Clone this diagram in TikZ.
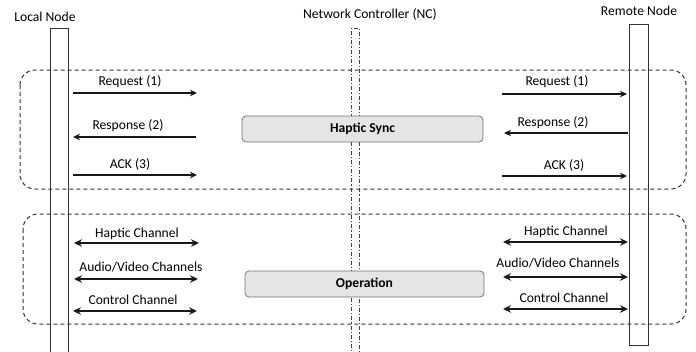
\documentclass[tikz,border=0pt]{standalone}
\usepackage{fontspec}
\setmainfont{Carlito}
\usetikzlibrary{arrows.meta}
\begin{document}
\begin{tikzpicture}[x=1pt,y=-1pt,
  lbl/.style={font=\fontsize{13.6}{15}\selectfont, inner sep=0pt, text=black},
  life/.style={draw=black!80, line width=1.2pt, fill=white, inner sep=0pt},
  msg/.style={draw=black!90, line width=1.3pt, -{Stealth[length=7pt,width=6.5pt]}},
  dmsg/.style={draw=black!90, line width=1.6pt, {Stealth[length=8pt,width=7.5pt]}-{Stealth[length=8pt,width=7.5pt]}},
  phase/.style={draw=black!80, dash pattern=on 4pt off 3pt, line width=1pt, rounded corners=15pt},
  stepbox/.style={draw=black!55, fill=black!10, rounded corners=4pt, line width=0.8pt, inner sep=0pt, font=\bfseries\fontsize{13.6}{15}\selectfont}
]
\useasboundingbox (0,0) rectangle (696,351);

% lifelines
\node[life, anchor=north west, minimum width=18pt, minimum height=340pt] (local) at (50,28) {};
\node[life, anchor=north west, minimum width=19pt, minimum height=321pt] (remote) at (629,24) {};
\node[draw=black!75, line width=0.9pt, dash pattern=on 4pt off 2pt on 1.2pt off 2pt, anchor=north west, minimum width=8pt, minimum height=340pt, inner sep=0pt] (nc) at (351,28) {};

% headers
\node[lbl] (localT) at (45,17) {Local Node};
\node[lbl] (ncT) at (370,14) {Network Controller (NC)};
\node[lbl] (remoteT) at (639,11) {Remote Node};

% phase frames
\draw[phase] (20,70) rectangle (686,189);
\draw[phase] (23,214) rectangle (686,324);

% central boxes
\node[stepbox, minimum width=241pt, minimum height=26pt] (sync) at (362.5,129) {Haptic Sync};
\node[stepbox, minimum width=239pt, minimum height=26pt] (oper) at (364.5,284) {Operation};

% haptic sync messages, left
\coordinate (l1a) at (73,93);  \coordinate (l1b) at (197,93);
\coordinate (l2a) at (196,137); \coordinate (l2b) at (73,137);
\coordinate (l3a) at (73,175); \coordinate (l3b) at (197,175);
\draw[msg] (l1a) -- (l1b);
\draw[msg] (l2a) -- (l2b);
\draw[msg] (l3a) -- (l3b);
\node[lbl] (tl1) at (130,82) {Request (1)};
\node[lbl] (tl2) at (128,126) {Response (2)};
\node[lbl] (tl3) at (130,164) {ACK (3)};

% haptic sync messages, right
\coordinate (r1a) at (502,94);  \coordinate (r1b) at (627,94);
\coordinate (r2a) at (628,133); \coordinate (r2b) at (504,133);
\coordinate (r3a) at (502,176); \coordinate (r3b) at (627,176);
\draw[msg] (r1a) -- (r1b);
\draw[msg] (r2a) -- (r2b);
\draw[msg] (r3a) -- (r3b);
\node[lbl] (tr1) at (557,82) {Request (1)};
\node[lbl] (tr2) at (553,123) {Response (2)};
\node[lbl] (tr3) at (564,165) {ACK (3)};

% operation channels, left
\coordinate (ch1a) at (74,243); \coordinate (ch1b) at (199,243);
\coordinate (ch2a) at (74,279); \coordinate (ch2b) at (198,279);
\coordinate (ch3a) at (73,311); \coordinate (ch3b) at (197,311);
\draw[dmsg] (ch1a) -- (ch1b);
\draw[dmsg] (ch2a) -- (ch2b);
\draw[dmsg] (ch3a) -- (ch3b);
\node[lbl] (tc1) at (137,234) {Haptic Channel};
\node[lbl] (tc2) at (141,267) {Audio/Video Channels};
\node[lbl] (tc3) at (133,300) {Control Channel};

% operation channels, right
\coordinate (cr1a) at (503,242); \coordinate (cr1b) at (628,242);
\coordinate (cr2a) at (503,277); \coordinate (cr2b) at (628,277);
\coordinate (cr3a) at (503,309); \coordinate (cr3b) at (628,309);
\draw[dmsg] (cr1a) -- (cr1b);
\draw[dmsg] (cr2a) -- (cr2b);
\draw[dmsg] (cr3a) -- (cr3b);
\node[lbl] (tcr1) at (566,232) {Haptic Channel};
\node[lbl] (tcr2) at (558,263) {Audio/Video Channels};
\node[lbl] (tcr3) at (564,298) {Control Channel};
\end{tikzpicture}
\end{document}
